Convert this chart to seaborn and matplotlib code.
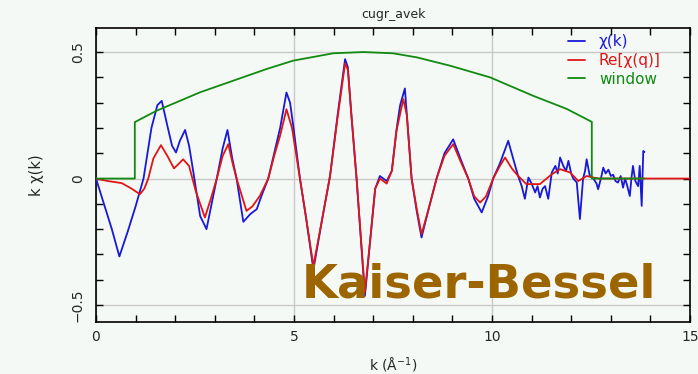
import numpy as np
import pandas as pd
import seaborn as sns
import matplotlib
matplotlib.use("Agg")
import matplotlib.pyplot as plt
from matplotlib.ticker import MultipleLocator, FixedLocator

# ---------------- data ----------------
chi_k = [0, 0.2, 0.4, 0.59, 0.8, 1.0, 1.2, 1.4, 1.55, 1.66, 1.8, 1.92, 2.02, 2.12, 2.25,
         2.35, 2.46, 2.63, 2.79, 2.92, 3.05, 3.2, 3.32, 3.44, 3.55, 3.72, 3.9, 4.06, 4.18,
         4.35, 4.5, 4.65, 4.81, 4.9, 4.98, 5.15, 5.3, 5.49, 5.7, 5.91, 6.1, 6.29, 6.36,
         6.45, 6.58, 6.79, 6.92, 7.05, 7.17, 7.34, 7.47, 7.59, 7.68, 7.8, 7.97, 8.1, 8.22,
         8.4, 8.6, 8.8, 9.02, 9.2, 9.4, 9.55, 9.74, 9.9, 10.03, 10.2, 10.41, 10.55, 10.66,
         10.75, 10.83, 10.92, 11.0, 11.09, 11.15, 11.21, 11.28, 11.34, 11.42, 11.51, 11.6,
         11.66, 11.72, 11.8, 11.87, 11.93, 12.0, 12.05, 12.14, 12.22, 12.3, 12.35, 12.39,
         12.47, 12.56, 12.64, 12.68, 12.75, 12.81, 12.87, 12.94, 13.0, 13.06, 13.12, 13.18,
         13.25, 13.31, 13.36, 13.4, 13.48, 13.52, 13.56, 13.62, 13.69, 13.73, 13.78, 13.82,
         13.85]
chi_v = [0, -0.1, -0.2, -0.308, -0.21, -0.11, 0.0, 0.2, 0.29, 0.307, 0.21, 0.13, 0.103, 0.15,
         0.192, 0.13, 0.024, -0.148, -0.2, -0.1, 0.0, 0.12, 0.192, 0.08, 0.0, -0.171, -0.14,
         -0.121, -0.068, 0.0, 0.1, 0.2, 0.34, 0.30, 0.21, 0.0, -0.15, -0.36, -0.17, 0.01,
         0.25, 0.472, 0.44, 0.25, 0.0, -0.464, -0.25, -0.04, 0.01, -0.01, 0.03, 0.195, 0.29,
         0.356, 0.0, -0.13, -0.233, -0.12, 0.0, 0.1, 0.155, 0.08, 0.0, -0.08, -0.134, -0.07,
         0.0, 0.06, 0.149, 0.07, 0.01,
         -0.03, -0.08, 0.004, -0.02, -0.055, -0.03, -0.075, -0.04, -0.03, -0.08, 0.024, 0.05,
         0.02, 0.083, 0.05, 0.03, 0.07, 0.02, 0.0, -0.015, -0.16, 0.0, 0.03, 0.076,
         0.01, 0.0, -0.02, -0.042, 0.0, 0.043, 0.02, 0.035, 0.01, 0.015, -0.01, -0.016,
         0.01, -0.036, 0.0, -0.02, -0.069, 0.0, 0.05, -0.01, -0.03, 0.05, -0.108, 0.109,
         0.105]

req_k = [0, 0.3, 0.65, 0.9, 1.11, 1.22, 1.32, 1.45, 1.64, 1.8, 1.97, 2.1, 2.2, 2.35, 2.52,
         2.75, 2.9, 3.05, 3.2, 3.34, 3.45, 3.55, 3.8, 3.95, 4.14, 4.35, 4.5, 4.65, 4.81,
         4.95, 5.15, 5.3, 5.49, 5.7, 5.91, 6.1, 6.29, 6.36, 6.45, 6.58, 6.79, 6.92, 7.05,
         7.17, 7.34, 7.47, 7.59, 7.76, 7.85, 7.97, 8.1, 8.22, 8.4, 8.6, 8.8, 9.02, 9.2, 9.4,
         9.55, 9.7, 9.85, 10.03, 10.2, 10.33, 10.5, 10.66, 10.87, 11.21, 11.51, 11.72,
         11.97, 12.18, 12.39, 12.56, 12.7, 15.0]
req_v = [0, -0.01, -0.018, -0.04, -0.062, -0.04, 0.0, 0.08, 0.132, 0.09, 0.04, 0.06, 0.076,
         0.05, -0.05, -0.154, -0.08, 0.0, 0.09, 0.136, 0.06, 0.0, -0.128, -0.11, -0.068,
         0.0, 0.09, 0.17, 0.274, 0.2, 0.0, -0.15, -0.345, -0.17, 0.01, 0.24, 0.455, 0.43,
         0.25, 0.0, -0.45, -0.25, -0.04, 0.0, -0.02, 0.03, 0.19, 0.314, 0.25, 0.0, -0.12,
         -0.22, -0.12, 0.0, 0.09, 0.136, 0.07, 0.0, -0.07, -0.095, -0.07, 0.0, 0.05, 0.083,
         0.04, 0.01, -0.022, -0.022, 0.017, 0.037, 0.024, -0.01, 0.01, 0.004, 0.0, 0.0]

win_k = [0, 0.98, 0.98, 1.53, 2.63, 3.47, 4.31, 4.98, 5.99, 6.75, 7.5, 8.1, 8.94, 9.95,
         11.04, 11.89, 12.52, 12.52, 13.85]
win_v = [0, 0, 0.223, 0.268, 0.341, 0.387, 0.433, 0.466, 0.495, 0.5, 0.495, 0.479, 0.446,
         0.40, 0.327, 0.275, 0.224, 0, 0]

series_names = ["χ(k)", "Re[χ(q)]", "window"]
x_ticks = [0, 5, 10, 15]
x_tick_labels = ["0", "5", "10", "15"]
y_ticks = [-0.5, 0, 0.5]
y_tick_labels = ["\u22120.5", "0", "0.5"]

# ---------------- plot ----------------
sns.set_style("ticks")
plt.rcParams["font.family"] = ["DejaVu Sans"]
bg = "#f5f9f5"
fig = plt.figure(figsize=(6.98, 3.74), dpi=100, facecolor=bg)
ax = fig.add_axes([96 / 698, 52 / 374, 594 / 698, 294 / 374])
ax.set_facecolor(bg)

colors = ["#1818d8", "#e01515", "#108a10"]
dfs = [pd.DataFrame({"k": chi_k, "v": chi_v}),
       pd.DataFrame({"k": req_k, "v": req_v}),
       pd.DataFrame({"k": win_k, "v": win_v})]
for d, c, n in zip(dfs, colors, series_names):
    sns.lineplot(data=d, x="k", y="v", ax=ax, color=c, lw=1.3, sort=False,
                 estimator=None, label=n, zorder=3)

ax.set_xlim(0, 15)
ax.set_ylim(-0.567, 0.595)
ax.xaxis.set_major_locator(FixedLocator(x_ticks))
ax.set_xticklabels(x_tick_labels)
ax.yaxis.set_major_locator(FixedLocator(y_ticks))
ax.set_yticklabels(y_tick_labels, rotation=90, va="center")
ax.xaxis.set_minor_locator(MultipleLocator(1))
ax.yaxis.set_minor_locator(MultipleLocator(0.1))
ax.tick_params(which="both", direction="in", top=True, right=True, length=5,
               width=1, color="black", labelsize=10)
ax.tick_params(axis="x", pad=6)
ax.tick_params(axis="y", pad=8)
ax.grid(True, which="major", color="#c8c8c8", lw=1, zorder=0)
for s in ax.spines.values():
    s.set_color("black")
    s.set_linewidth(1.2)

ax.set_xlabel("k (Å$^{-1}$)", fontsize=10, labelpad=8)
ax.set_ylabel("k χ(k)", fontsize=10.5, labelpad=19)
ax.set_title("cugr_avek", fontsize=9, pad=7)

leg = ax.legend(loc="upper left", bbox_to_anchor=(0.785, 1.0), frameon=False,
                fontsize=11, handlelength=1.1, handletextpad=0.9, labelspacing=0.25,
                borderaxespad=0.0, borderpad=0.4)
for t, c in zip(leg.get_texts(), colors):
    t.set_color(c)

fig.text(302 / 698, (374 - 298) / 374, "Kaiser-Bessel", fontsize=33.5, fontweight="bold",
         color="#9c6500", family=["DejaVu Sans"], va="baseline", ha="left",
         zorder=10)

fig.savefig("out.png", dpi=100, facecolor=bg)
